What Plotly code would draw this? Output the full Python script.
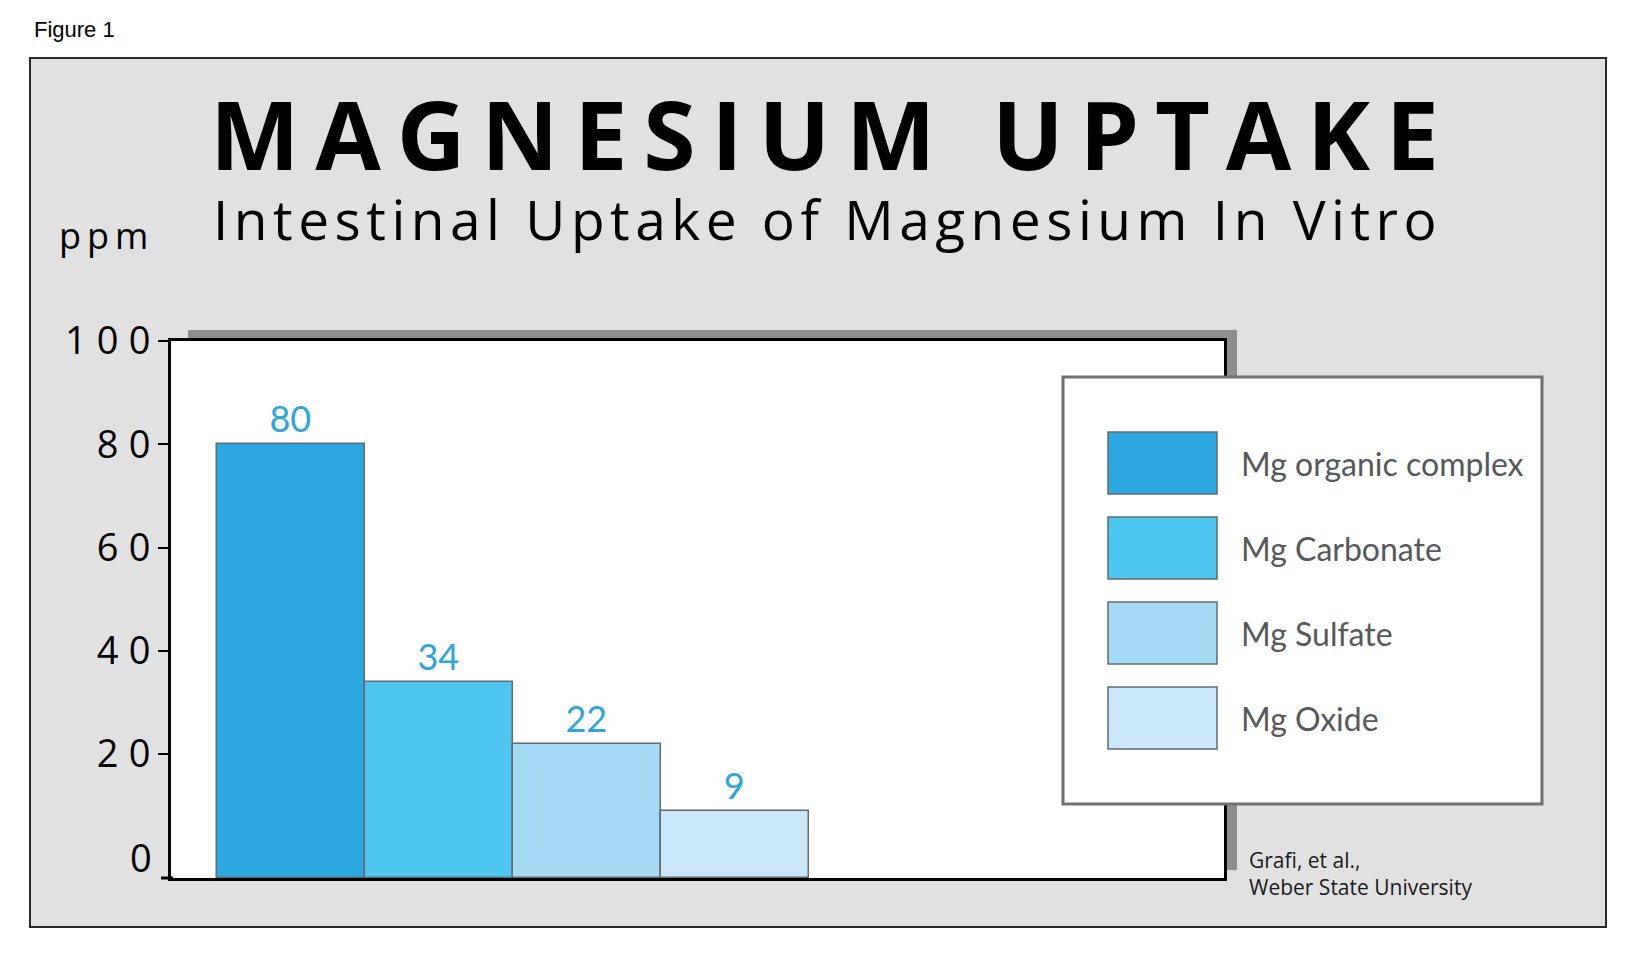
import plotly.graph_objects as go

# data
categories = ["Mg organic complex", "Mg Carbonate", "Mg Sulfate", "Mg Oxide"]
uptake_ppm = [80, 34, 22, 9]
y_ticks = [20, 40, 60, 80, 100]   # 0 gets its own label, it has no tick mark
bar_colors = ["#2ca7df", "#4fc6f0", "#a5daf4", "#c9e7f9"]

title = "MAGNESIUM UPTAKE"
subtitle = "Intestinal Uptake of Magnesium In Vitro"
source = ["Grafi, et al.,", "Weber State University"]

W, H = 1632, 964
L, R, T, B = 163, 1216, 333, 870      # plot area in pixels
Y_MIN = -4                            # baseline sits a little below zero

THIN = "\u2009"
HAIR = "\u200a"


def spaced(s, sep):
    return sep.join(s)


def px(x):
    return (x - L) / (R - L)


def py(y):
    return (B - y) / (B - T)


fig = go.Figure()

fig.add_trace(go.Bar(
    x=categories,
    y=[v - Y_MIN for v in uptake_ppm],
    base=Y_MIN,
    width=1,
    marker=dict(color=bar_colors, line=dict(color="#5f6b72", width=1.5)),
    text=[str(v) for v in uptake_ppm],
    textposition="outside",
    textfont=dict(family="Lato", size=36, color="#2ea6dc"),
    cliponaxis=False,
    showlegend=False,
))

shapes = []
# grey panel behind everything
shapes.append(dict(type="rect", xref="paper", yref="paper", layer="below",
                   x0=px(22), x1=px(1598), y0=py(919), y1=py(50),
                   fillcolor="#e1e1e1", line=dict(color="#2a2a2a", width=2)))
# drop shadow of the plot area, then the white plot face over it
shapes.append(dict(type="rect", xref="paper", yref="paper", layer="below",
                   x0=px(180), x1=px(1229), y0=py(862), y1=py(322),
                   fillcolor="#8e8e8e", line=dict(width=0)))
shapes.append(dict(type="rect", xref="paper", yref="paper", layer="below",
                   x0=0, x1=1, y0=0, y1=1,
                   fillcolor="white", line=dict(width=0)))
# baseline reaching past the y axis
shapes.append(dict(type="line", xref="paper", yref="paper",
                   x0=px(153), x1=px(165), y0=0, y1=0,
                   line=dict(color="black", width=3)))
# legend box
shapes.append(dict(type="rect", xref="paper", yref="paper", layer="above",
                   x0=px(1055), x1=px(1534), y0=py(796), y1=py(369),
                   fillcolor="white", line=dict(color="#707070", width=3)))

annotations = []
row_centers = [455, 540, 625, 710]
for name, col, yc in zip(categories, bar_colors, row_centers):
    shapes.append(dict(type="rect", xref="paper", yref="paper", layer="above",
                       x0=px(1100), x1=px(1209), y0=py(yc + 31), y1=py(yc - 31),
                       fillcolor=col, line=dict(color="#5f6b72", width=1.5)))
    annotations.append(dict(text=name, xref="paper", yref="paper",
                            x=px(1231), y=py(yc), xanchor="left", yanchor="middle",
                            showarrow=False,
                            font=dict(family="Lato", size=32, color="#55595c")))

# zero label on the y axis
annotations.append(dict(text="0", xref="paper", yref="y",
                        x=px(146), y=0, xanchor="right", yanchor="middle",
                        showarrow=False,
                        font=dict(family="Open Sans", size=38, color="black")))

annotations.append(dict(text="Figure 1", xref="paper", yref="paper",
                        x=px(24), y=py(22), xanchor="left", yanchor="middle",
                        showarrow=False,
                        font=dict(family="Liberation Sans Narrow, Liberation Sans", size=22, color="black")))
annotations.append(dict(text=spaced(title, THIN), xref="paper", yref="paper",
                        x=px(816), y=py(125), xanchor="center", yanchor="middle",
                        showarrow=False,
                        font=dict(family="Open Sans", size=95, color="black", weight="bold")))
annotations.append(dict(text=spaced(subtitle, HAIR), xref="paper", yref="paper",
                        x=px(817), y=py(211), xanchor="center", yanchor="middle",
                        showarrow=False,
                        font=dict(family="Open Sans", size=55, color="black")))
annotations.append(dict(text=spaced("ppm", THIN), xref="paper", yref="paper",
                        x=px(49), y=py(227), xanchor="left", yanchor="middle",
                        showarrow=False,
                        font=dict(family="Open Sans", size=36, color="black")))
annotations.append(dict(text="<br>".join(source), xref="paper", yref="paper",
                        x=px(1239), y=py(865), xanchor="left", yanchor="middle",
                        align="left", showarrow=False,
                        font=dict(family="Open Sans", size=21, color="#1a1a1a")))

fig.update_layout(
    width=W, height=H, autosize=False,
    margin=dict(l=L, r=W - R, t=T, b=H - B, pad=0),
    paper_bgcolor="white",
    plot_bgcolor="white",
    bargap=0,
    shapes=shapes,
    annotations=annotations,
    showlegend=False,
)
fig.update_xaxes(range=[-0.81, 6.30], showticklabels=False, ticks="",
                 showgrid=False, zeroline=False,
                 showline=True, linecolor="black", linewidth=3, mirror=True)
fig.update_yaxes(range=[Y_MIN, 100], tickvals=y_ticks,
                 ticktext=[spaced(str(t), THIN + HAIR) for t in y_ticks],
                 ticks="outside", ticklen=10, tickwidth=2, tickcolor="black",
                 tickfont=dict(family="Open Sans", size=38, color="black"),
                 showgrid=False, zeroline=False,
                 showline=True, linecolor="black", linewidth=3, mirror=True)

fig.write_html("out.html")
